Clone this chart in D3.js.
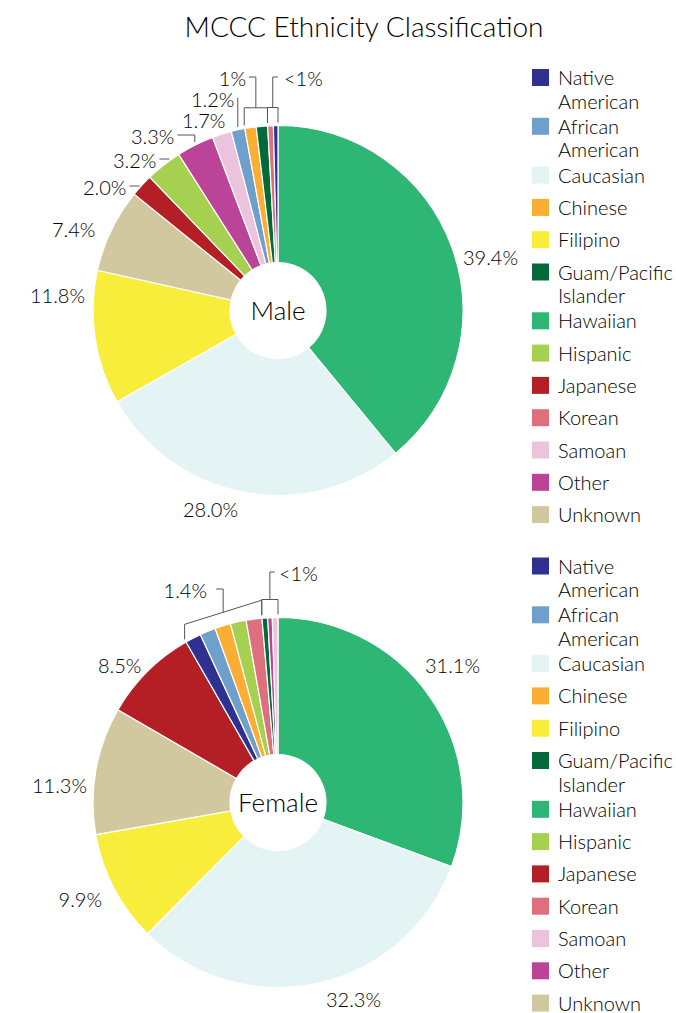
<!DOCTYPE html>
<html>
<head>
<meta charset="utf-8">
<script src="https://d3js.org/d3.v7.min.js"></script>
<style>
  body { margin: 0; background: #fff; }
  text { font-family: Lato, "Open Sans", sans-serif; font-weight: 300; fill: #000; }
</style>
</head>
<body>
<script>
// categories as listed in the legend
var categories = ["Native American", "African American", "Caucasian", "Chinese", "Filipino",
  "Guam/Pacific Islander", "Hawaiian", "Hispanic", "Japanese", "Korean", "Samoan", "Other", "Unknown"];
var legendText = [["Native", "American"], ["African", "American"], ["Caucasian"], ["Chinese"], ["Filipino"],
  ["Guam/Pacific", "Islander"], ["Hawaiian"], ["Hispanic"], ["Japanese"], ["Korean"], ["Samoan"], ["Other"], ["Unknown"]];
var colors = ["#2e3192", "#6f9fcb", "#e4f3f3", "#fbad34", "#f8ed3a",
  "#056a39", "#2db674", "#a6d050", "#b41f26", "#de6f7e", "#ecc3dd", "#bb4398", "#d2c8a0"];

// slices clockwise from 12 o'clock
var maleOrder = ["Hawaiian", "Caucasian", "Filipino", "Unknown", "Japanese", "Hispanic", "Other",
  "Samoan", "African American", "Chinese", "Guam/Pacific Islander", "Korean", "Native American"];
var maleValues = [39.4, 28.0, 11.8, 7.4, 2.0, 3.2, 3.3, 1.7, 1.2, 1.0, 1.0, 0.5, 0.4];

var femaleOrder = ["Hawaiian", "Caucasian", "Filipino", "Unknown", "Japanese", "Native American",
  "African American", "Chinese", "Hispanic", "Korean", "Guam/Pacific Islander", "Other", "Samoan"];
var femaleValues = [31.1, 32.3, 9.9, 11.3, 8.5, 1.4, 1.4, 1.4, 1.4, 1.4, 0.5, 0.4, 0.5];

// label placement (x,y = left/right edge and vertical middle of the text)
var maleLabels = [
  {cats: ["Hawaiian"], text: "39.4%", x: 463, y: 258},
  {cats: ["Caucasian"], text: "28.0%", x: 183, y: 510},
  {cats: ["Filipino"], text: "11.8%", x: 30, y: 296},
  {cats: ["Unknown"], text: "7.4%", x: 52, y: 230},
  {cats: ["Japanese"], text: "2.0%", x: 83, y: 188, leader: "dash"},
  {cats: ["Hispanic"], text: "3.2%", x: 113, y: 161, leader: "dash"},
  {cats: ["Other"], text: "3.3%", x: 131, y: 137, leader: "elbow"},
  {cats: ["Samoan"], text: "1.7%", x: 182, y: 121},
  {cats: ["African American"], text: "1.2%", x: 191, y: 100, leader: "elbow"},
  {cats: ["Chinese", "Guam/Pacific Islander"], text: "1%", x: 246, y: 79, anchor: "end", leader: "bracket", flat: true},
  {cats: ["Korean", "Native American"], text: "<1%", x: 284, y: 79, leader: "bracket", flat: true}
];
var femaleLabels = [
  {cats: ["Hawaiian"], text: "31.1%", x: 425, y: 666},
  {cats: ["Caucasian"], text: "32.3%", x: 326, y: 1000},
  {cats: ["Filipino"], text: "9.9%", x: 102, y: 900, anchor: "end"},
  {cats: ["Unknown"], text: "11.3%", x: 87, y: 786, anchor: "end"},
  {cats: ["Japanese"], text: "8.5%", x: 98, y: 666},
  {cats: ["Native American", "Korean"], text: "1.4%", x: 207, y: 591, anchor: "end", leader: "bracket", flat: false},
  {cats: ["Guam/Pacific Islander", "Samoan"], text: "<1%", x: 279, y: 574, leader: "bracket", flat: true}
];

var W = 676, H = 1013;
var svg = d3.select("body").append("svg").attr("width", W).attr("height", H);
var color = d3.scaleOrdinal().domain(categories).range(colors);

svg.append("text")
  .attr("x", 364).attr("y", 37)
  .attr("text-anchor", "middle")
  .style("font-size", "28px")
  .text("MCCC Ethnicity Classification");

var cx = 278, R = 185, R0 = 48;
var pie = d3.pie().sort(null).value(function(d) { return d.v; });
var arc = d3.arc().innerRadius(R0).outerRadius(R);
var fs = 20;

function drawPie(name, order, values, cy, labels) {
  var data = order.map(function(c, i) { return {cat: c, v: values[i]}; });
  var arcs = pie(data);
  var byCat = {};
  arcs.forEach(function(a) { byCat[a.data.cat] = a; });

  var g = svg.append("g").attr("transform", "translate(" + cx + "," + cy + ")");
  g.selectAll("path").data(arcs).enter().append("path")
    .attr("d", arc)
    .attr("fill", function(d) { return color(d.data.cat); })
    .attr("stroke", "#fff")
    .attr("stroke-width", 1.2);

  g.append("text")
    .attr("text-anchor", "middle")
    .attr("y", 9)
    .style("font-size", "26px")
    .text(name);

  function pt(a, r) { return [cx + r * Math.sin(a), cy - r * Math.cos(a)]; }

  labels.forEach(function(l) {
    var t = svg.append("text")
      .attr("x", l.x).attr("y", l.y + 7)
      .attr("text-anchor", l.anchor || "start")
      .style("font-size", fs + "px")
      .text(l.text);
    var bb = t.node().getBBox();
    var right = bb.x + bb.width;
    var ly = l.y - 2;
    var path = null;
    if (l.leader == "dash") {
      path = "M" + (right + 3) + "," + ly + "H" + (right + 13);
    } else if (l.leader == "elbow") {
      var s = byCat[l.cats[0]];
      var p = pt((s.startAngle + s.endAngle) / 2, R + 1);
      path = "M" + (right + 3) + "," + ly + "H" + p[0] + "V" + (p[1] - 2);
    } else if (l.leader == "bracket") {
      var a0 = byCat[l.cats[0]].startAngle, a1 = byCat[l.cats[l.cats.length - 1]].endAngle;
      var A = pt(a0, R + 3), B = pt(a1, R + 3);
      var h = 15, mx = (A[0] + B[0]) / 2, top;
      if (l.flat) {
        top = Math.min(A[1], B[1]) - h;
        path = "M" + A[0] + "," + A[1] + "V" + top + "H" + B[0] + "V" + B[1];
      } else {
        path = "M" + A[0] + "," + A[1] + "V" + (A[1] - h) + "L" + B[0] + "," + (B[1] - h) + "V" + B[1];
        top = (A[1] + B[1]) / 2 - h;
      }
      var sx = (l.anchor == "end") ? mx - 7 : mx + 5;
      path += "M" + mx + "," + top + "V" + ly + "H" + sx;
    }
    if (path) {
      svg.append("path").attr("d", path)
        .attr("fill", "none").attr("stroke", "#555").attr("stroke-width", 1);
    }
  });
}

drawPie("Male", maleOrder, maleValues, 310.5, maleLabels);
drawPie("Female", femaleOrder, femaleValues, 802.5, femaleLabels);

// legends
function drawLegend(y0) {
  var y = y0;
  var g = svg.append("g");
  categories.forEach(function(c, i) {
    var lines = legendText[i];
    g.append("rect").attr("x", 532).attr("y", y - 8.5).attr("width", 17).attr("height", 17)
      .attr("fill", color(c));
    var t = g.append("text").attr("x", 558).attr("y", y + 7.5).style("font-size", "20px");
    lines.forEach(function(s, j) {
      t.append("tspan").attr("x", 558).attr("dy", j ? 23.5 : 0).text(s);
    });
    y += 32.3 + (lines.length - 1) * 16.5;
  });
}
drawLegend(77.5);
drawLegend(566);
</script>
</body>
</html>
